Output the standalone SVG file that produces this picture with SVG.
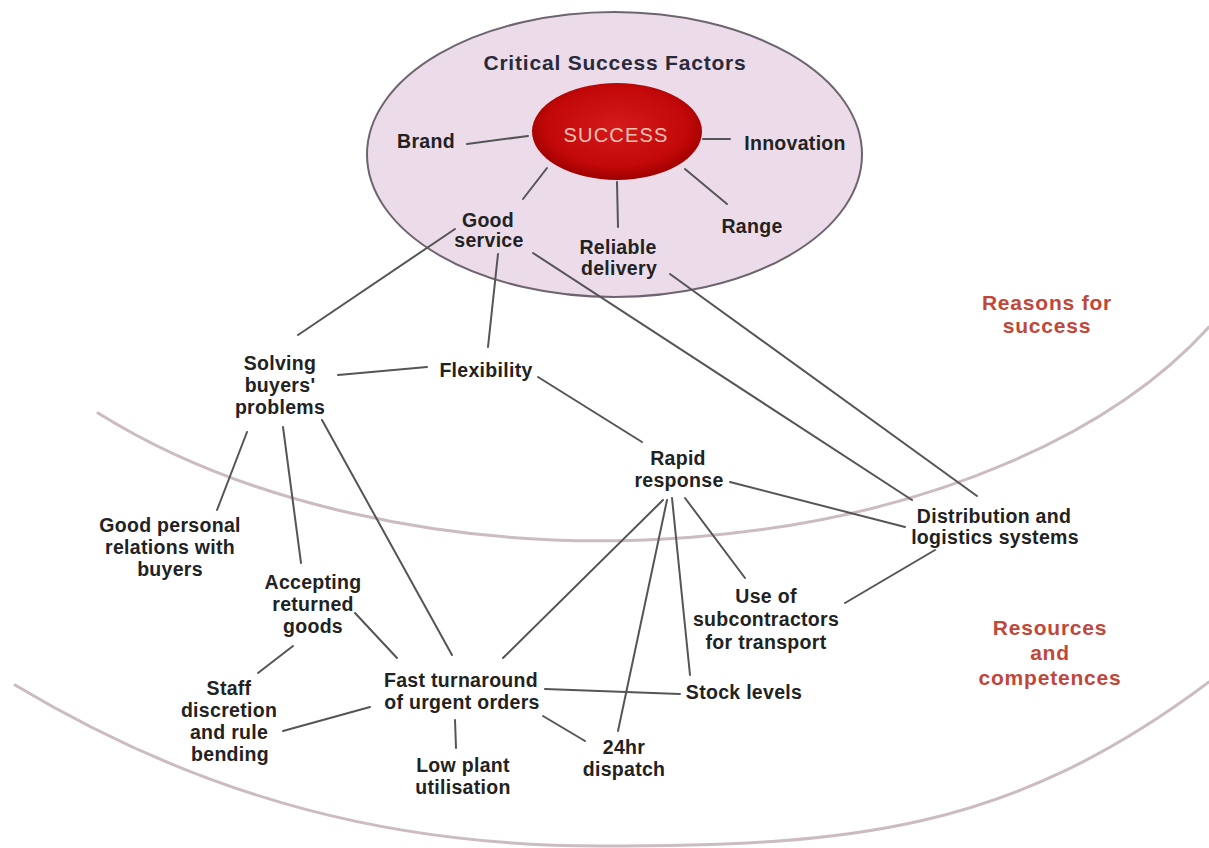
<svg xmlns="http://www.w3.org/2000/svg" width="1209" height="848" viewBox="0 0 1209 848">
<defs>
<radialGradient id="redGrad" cx="50%" cy="45%" r="55%">
<stop offset="0%" stop-color="#d41a1a"/>
<stop offset="75%" stop-color="#c20808"/>
<stop offset="100%" stop-color="#9e0000"/>
</radialGradient>
<style>
.arc{fill:none;stroke:#cbbcc1;stroke-width:3;stroke-linecap:round}
.ln{stroke:#555;stroke-width:2;fill:none;stroke-linecap:round}
.t{font-family:"Liberation Sans",Arial,Helvetica,sans-serif;font-weight:bold;font-size:19.5px;fill:#222;text-anchor:middle;letter-spacing:0.3px}
.title{font-size:21px;letter-spacing:0.8px;fill:#2a2a3a}
.succ{font-family:"Liberation Sans",Arial,Helvetica,sans-serif;font-size:20px;fill:#f6c3b6;text-anchor:middle;letter-spacing:1.2px}
.lab{font-family:"Liberation Sans",Arial,Helvetica,sans-serif;font-weight:bold;font-size:21px;fill:#c0473a;text-anchor:middle;letter-spacing:0.8px}
</style>
</defs>
<rect width="1209" height="848" fill="#ffffff"/>

<g id="bands">
<path class="arc" d="M 98 413 A 687 400 0 0 0 1209 327"/>
<path class="arc" d="M 15 685 C 210 802 400 846 600 846 C 850 846 1009 832 1209 682"/>
<text class="lab" x="1047" y="310">Reasons for</text>
<text class="lab" x="1047" y="333">success</text>
<text class="lab" x="1050" y="635">Resources</text>
<text class="lab" x="1050" y="660">and</text>
<text class="lab" x="1050" y="685">competences</text>
</g>

<g id="csf">
<ellipse cx="614.5" cy="154.5" rx="247.5" ry="142.5" fill="#ecdcea" stroke="#6d6470" stroke-width="2"/>
<text class="t title" x="615" y="70">Critical Success Factors</text>
</g>

<g id="connectors">
<line class="ln" x1="467" y1="144" x2="528" y2="136"/>
<line class="ln" x1="703" y1="139" x2="730" y2="139"/>
<line class="ln" x1="547" y1="168" x2="523" y2="199"/>
<line class="ln" x1="617" y1="182" x2="618" y2="227"/>
<line class="ln" x1="685" y1="169" x2="727" y2="204"/>
<line class="ln" x1="455" y1="229" x2="298" y2="335"/>
<line class="ln" x1="498" y1="254" x2="488" y2="347"/>
<line class="ln" x1="533" y1="253" x2="912" y2="500"/>
<line class="ln" x1="670" y1="274" x2="977" y2="496"/>
<line class="ln" x1="338" y1="375" x2="427" y2="367"/>
<line class="ln" x1="538" y1="377" x2="642" y2="442"/>
<line class="ln" x1="730" y1="482" x2="905" y2="527"/>
<line class="ln" x1="247" y1="432" x2="217" y2="510"/>
<line class="ln" x1="283" y1="427" x2="301" y2="563"/>
<line class="ln" x1="322" y1="420" x2="452" y2="655"/>
<line class="ln" x1="663" y1="500" x2="503" y2="658"/>
<line class="ln" x1="667" y1="500" x2="618" y2="731"/>
<line class="ln" x1="672" y1="498" x2="690" y2="675"/>
<line class="ln" x1="685" y1="498" x2="745" y2="578"/>
<line class="ln" x1="935" y1="550" x2="845" y2="603"/>
<line class="ln" x1="355" y1="613" x2="397" y2="658"/>
<line class="ln" x1="293" y1="646" x2="258" y2="673"/>
<line class="ln" x1="370" y1="707" x2="283" y2="731"/>
<line class="ln" x1="545" y1="689" x2="680" y2="694"/>
<line class="ln" x1="455" y1="720" x2="456" y2="748"/>
<line class="ln" x1="543" y1="716" x2="585" y2="741"/>
</g>

<g id="success">
<ellipse cx="617" cy="131.5" rx="85" ry="48.5" fill="url(#redGrad)"/>
<text class="succ" x="616" y="142">SUCCESS</text>
</g>
<g id="brand"><text class="t" x="426" y="148">Brand</text></g>
<g id="innovation"><text class="t" x="795" y="150">Innovation</text></g>
<g id="good-service"><text class="t" x="488" y="227">Good</text><text class="t" x="489" y="247">service</text></g>
<g id="reliable-delivery"><text class="t" x="618" y="254">Reliable</text><text class="t" x="619" y="275">delivery</text></g>
<g id="range"><text class="t" x="752" y="233">Range</text></g>

<g id="solving"><text class="t" x="280" y="370">Solving</text><text class="t" x="280" y="392">buyers'</text><text class="t" x="280" y="414">problems</text></g>
<g id="flexibility"><text class="t" x="486" y="377">Flexibility</text></g>
<g id="rapid-response"><text class="t" x="678" y="465">Rapid</text><text class="t" x="679" y="487">response</text></g>
<g id="distribution"><text class="t" x="994" y="523">Distribution and</text><text class="t" x="995" y="544">logistics systems</text></g>
<g id="good-personal"><text class="t" x="170" y="532">Good personal</text><text class="t" x="170" y="554">relations with</text><text class="t" x="170" y="576">buyers</text></g>
<g id="accepting"><text class="t" x="313" y="589">Accepting</text><text class="t" x="313" y="611">returned</text><text class="t" x="313" y="633">goods</text></g>
<g id="use-of-subcontractors"><text class="t" x="766" y="603">Use of</text><text class="t" x="766" y="626">subcontractors</text><text class="t" x="766" y="649">for transport</text></g>
<g id="staff"><text class="t" x="229" y="695">Staff</text><text class="t" x="229" y="717">discretion</text><text class="t" x="229" y="739">and rule</text><text class="t" x="230" y="761">bending</text></g>
<g id="fast-turnaround"><text class="t" x="461" y="687">Fast turnaround</text><text class="t" x="462" y="709">of urgent orders</text></g>
<g id="stock-levels"><text class="t" x="744" y="699">Stock levels</text></g>
<g id="low-plant"><text class="t" x="463" y="772">Low plant</text><text class="t" x="463" y="794">utilisation</text></g>
<g id="dispatch"><text class="t" x="624" y="754">24hr</text><text class="t" x="624" y="776">dispatch</text></g>
</svg>
